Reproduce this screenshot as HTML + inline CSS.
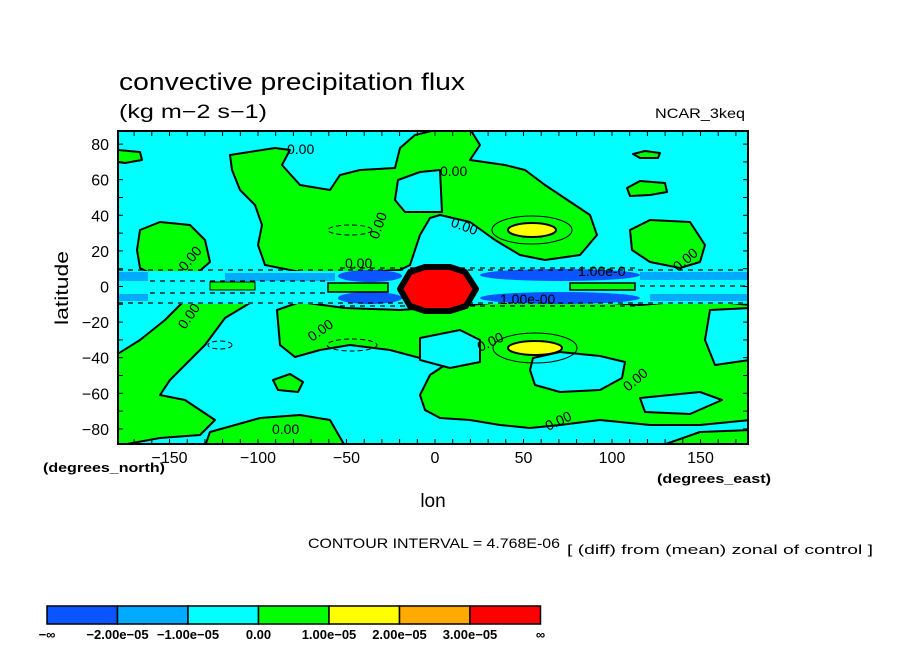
<!DOCTYPE html>
<html><head><meta charset="utf-8"><style>
body{margin:0;background:#fff;}
svg text{font-family:"Liberation Sans",sans-serif;}
</style></head><body>
<svg id="chart" width="904" height="654" viewBox="0 0 904 654" xmlns="http://www.w3.org/2000/svg">
<rect width="904" height="654" fill="#fff"/>
<text x="119" y="90" font-size="24" textLength="346" lengthAdjust="spacingAndGlyphs">convective precipitation flux</text>
<text x="119" y="118" font-size="19" textLength="148" lengthAdjust="spacingAndGlyphs">(kg m−2 s−1)</text>
<text x="655" y="118" font-size="14" textLength="90" lengthAdjust="spacingAndGlyphs">NCAR_3keq</text>
<clipPath id="pc"><rect x="118" y="131" width="630" height="313"/></clipPath>
<g id="field" clip-path="url(#pc)">
<rect x="118" y="131" width="630" height="313" fill="#00ffff"/>
<g fill="#00ff00" stroke="#000" stroke-width="2" stroke-linejoin="round">
<polygon points="140,230 160,222 190,225 205,240 210,262 195,275 160,278 140,268 137,250"/>
<polygon points="118,150 140,152 142,160 125,163 118,162"/>
<polygon points="230,155 275,148 290,150 282,165 300,185 330,190 340,175 360,170 395,168 400,148 415,135 440,129 470,129 480,145 470,160 505,165 525,170 545,185 560,195 590,215 597,235 580,255 545,260 520,255 495,240 470,222 440,215 430,218 420,235 410,265 400,270 360,272 300,272 265,265 258,245 262,225 255,205 240,190 232,170"/>
<polygon points="630,230 650,220 690,222 705,245 700,262 680,268 650,262 632,250"/>
<polygon points="627,188 640,181 665,183 667,192 650,195 630,196"/>
<polygon points="633,154 645,151 660,153 658,158 640,158"/>
<polygon points="116,355 140,340 165,320 185,300 205,290 245,288 255,300 225,318 205,345 185,365 170,380 160,395 185,400 200,410 215,420 200,435 160,438 116,446"/>
<polygon points="277,310 300,302 345,308 400,310 470,305 520,300 600,302 640,305 700,300 750,305 750,420 700,425 650,425 600,420 560,425 530,428 500,425 470,420 440,418 425,410 420,395 430,375 445,365 420,358 390,350 350,345 320,350 295,357 280,345"/>
<polygon points="210,432 260,418 300,415 330,420 345,446 205,446"/>
<polygon points="660,446 700,432 750,430 750,446"/>
<polygon points="273,380 290,374 303,382 298,392 278,390"/>
</g>
<g fill="#00ffff" stroke="#000" stroke-width="2" stroke-linejoin="round">
<polygon points="398,180 420,172 440,170 442,212 405,212 395,200"/>
<polygon points="420,338 460,330 480,340 480,362 450,368 420,360"/>
<polygon points="533,358 560,352 600,356 625,362 622,378 600,390 560,392 535,385 530,370"/>
<polygon points="710,310 750,308 750,360 715,365 705,340"/>
<polygon points="640,398 700,392 722,400 690,414 645,412"/>
</g>
<g>
<rect x="118" y="271" width="630" height="33" fill="#00ffff"/>
<rect x="118" y="272" width="30" height="9" fill="#00aaff"/>
<rect x="225" y="273" width="110" height="8" fill="#00aaff"/>
<rect x="118" y="294" width="30" height="7" fill="#00aaff"/>
<rect x="640" y="272" width="108" height="8" fill="#00aaff"/>
<rect x="650" y="294" width="98" height="7" fill="#00aaff"/>
<ellipse cx="370" cy="276" rx="32" ry="6" fill="#0a55ff"/>
<ellipse cx="370" cy="298" rx="32" ry="6" fill="#0a55ff"/>
<ellipse cx="560" cy="275" rx="80" ry="6" fill="#0a55ff"/>
<ellipse cx="560" cy="298" rx="80" ry="6" fill="#0a55ff"/>
<rect x="328" y="283" width="60" height="9" fill="#00ff00" stroke="#000" stroke-width="1.5"/>
<rect x="210" y="282" width="45" height="8" fill="#00ff00" stroke="#000" stroke-width="1"/>
<rect x="570" y="283" width="65" height="7" fill="#00ff00" stroke="#000" stroke-width="1.5"/>
<g fill="none" stroke="#000" stroke-width="1.2" stroke-dasharray="5,5">
<line x1="118" y1="270" x2="748" y2="270"/>
<line x1="150" y1="281" x2="330" y2="281"/>
<line x1="150" y1="293" x2="330" y2="293"/>
<line x1="118" y1="303" x2="748" y2="303"/>
<line x1="340" y1="268" x2="640" y2="268"/>
<line x1="340" y1="306" x2="640" y2="306"/>
<line x1="640" y1="286" x2="748" y2="286"/>
</g>
</g>
<g fill="none" stroke="#000" stroke-width="1">
<ellipse cx="532" cy="230" rx="40" ry="14"/>
<ellipse cx="535" cy="348" rx="42" ry="15"/>
</g>
<ellipse cx="532" cy="230" rx="24" ry="7" fill="#ffff00" stroke="#000" stroke-width="2"/>
<ellipse cx="535" cy="348" rx="27" ry="7" fill="#ffff00" stroke="#000" stroke-width="2"/>
<polygon points="400,289 410,272 425,267 450,267 465,272 476,289 466,306 450,311 425,311 410,306" fill="#ff0000" stroke="#000" stroke-width="6" stroke-linejoin="round"/>
<g fill="none" stroke="#000" stroke-width="1" stroke-dasharray="5,3">
<ellipse cx="350" cy="230" rx="22" ry="5"/>
<ellipse cx="352" cy="345" rx="25" ry="6"/>
<ellipse cx="220" cy="345" rx="12" ry="4"/>
</g>
<g font-size="14">
<text x="287" y="154">0.00</text>
<text x="440" y="176">0.00</text>
<text x="450" y="226" transform="rotate(20 450 226)">0.00</text>
<text x="378" y="240" transform="rotate(-70 378 240)">0.00</text>
<text x="185" y="272" transform="rotate(-50 185 272)">0.00</text>
<text x="185" y="330" transform="rotate(-55 185 330)">0.00</text>
<text x="312" y="342" transform="rotate(-35 312 342)">0.00</text>
<text x="480" y="352" transform="rotate(-25 480 352)">0.00</text>
<text x="345" y="268">0.00</text>
<text x="578" y="276">1.00e-0</text>
<text x="500" y="304">1.00e-00</text>
<text x="678" y="272" transform="rotate(-40 678 272)">0.00</text>
<text x="628" y="392" transform="rotate(-40 628 392)">0.00</text>
<text x="548" y="431" transform="rotate(-25 548 431)">0.00</text>
<text x="272" y="434">0.00</text>
</g>
</g>
<rect x="118" y="131" width="630" height="313" fill="none" stroke="#000" stroke-width="2"/>
<g id="axes"></g>
<text x="68" y="288" font-size="18" text-anchor="middle" transform="rotate(-90 68 288)" textLength="74" lengthAdjust="spacingAndGlyphs">latitude</text>
<text x="433" y="507" font-size="19" text-anchor="middle">lon</text>
<text x="43" y="472" font-size="13" font-weight="bold" textLength="122" lengthAdjust="spacingAndGlyphs">(degrees_north)</text>
<text x="657" y="483" font-size="13" font-weight="bold" textLength="114" lengthAdjust="spacingAndGlyphs">(degrees_east)</text>
<text x="308" y="548" font-size="14" textLength="252" lengthAdjust="spacingAndGlyphs">CONTOUR INTERVAL = 4.768E-06</text>
<text x="567" y="554" font-size="13" textLength="306" lengthAdjust="spacingAndGlyphs">[ (diff) from (mean) zonal of control ]</text>
<g id="cbar"></g>
</svg>
<script>
const xTickValues=[-150,-100,-50,0,50,100,150];
const yTickValues=[80,60,40,20,0,-20,-40,-60,-80];
const colorLevels=["−∞","−2.00e−05","−1.00e−05","0.00","1.00e−05","2.00e−05","3.00e−05","∞"];
const colorFills=["#0a55ff","#00aaff","#00ffff","#00ff00","#ffff00","#ffaa00","#ff0000"];
const NS="http://www.w3.org/2000/svg";
function xs(lon){return 435+lon*1.77;}
function ys(lat){return 286.5-lat*1.78;}
const ax=document.getElementById('axes');
function mk(tag,attrs,parent){const e=document.createElementNS(NS,tag);for(const k in attrs)e.setAttribute(k,attrs[k]);parent.appendChild(e);return e;}
for(let lon=-170;lon<=170;lon+=10){
  const l1=mk('line',{x1:xs(lon),x2:xs(lon),y1:444,y2:439,stroke:'#000','stroke-width':1},ax);
  
  
  const l2=mk('line',{x1:xs(lon),x2:xs(lon),y1:131,y2:136,stroke:'#000','stroke-width':1},ax);
  
  
}
for(let lat=-80;lat<=80;lat+=10){
  const l1=mk('line',{x1:118,x2:123,y1:ys(lat),y2:ys(lat),stroke:'#000','stroke-width':1},ax);
  
  
  const l2=mk('line',{x1:743,x2:748,y1:ys(lat),y2:ys(lat),stroke:'#000','stroke-width':1},ax);
  
  
}
xTickValues.forEach(v=>{
  const t=mk('text',{x:xs(v),y:463,'font-size':16,'text-anchor':'middle'},ax);
  t.textContent=(v<0?'−':'')+Math.abs(v);
  
  
});
yTickValues.forEach(v=>{
  const t=mk('text',{x:109,y:ys(v)+6,'font-size':16,'text-anchor':'end'},ax);
  t.textContent=(v<0?'−':'')+Math.abs(v);
  
  
});
const cb=document.getElementById('cbar');
const cx0=47,cw=70.5;
colorFills.forEach((c,i)=>{
  const r=mk('rect',{x:cx0+i*cw,y:606,width:cw,height:18,fill:c,stroke:'#000','stroke-width':1.5},cb);
  
  
});
colorLevels.forEach((s,i)=>{
  const t=mk('text',{x:cx0+i*cw,y:639,'font-size':13,'font-weight':'bold','text-anchor':'middle'},cb);
  t.textContent=s;
  
  
});
</script>
</body></html>
